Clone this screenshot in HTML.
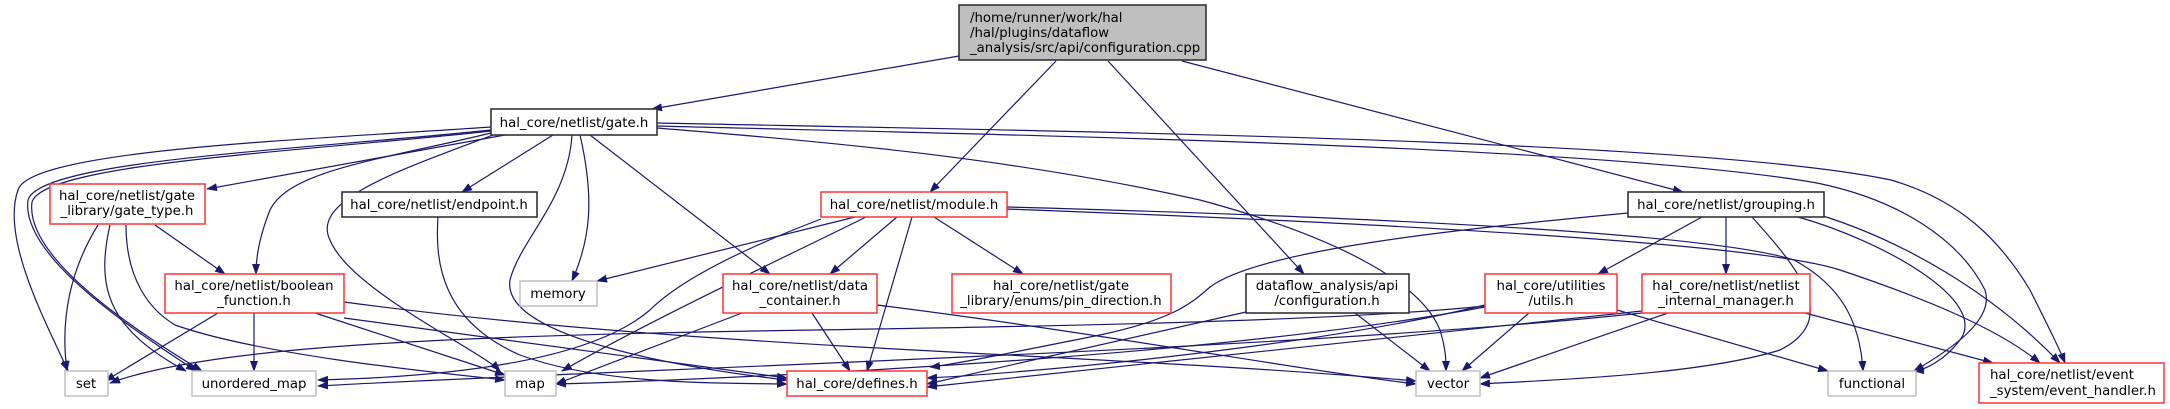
<!DOCTYPE html>
<html><head><meta charset="utf-8"><style>
html,body{margin:0;padding:0;background:#fff;}
svg{display:block}
text{font-family:"DejaVu Sans","Liberation Sans",sans-serif;font-size:13.3px;fill:#000}
.e{fill:none;stroke:#191970;stroke-width:1.2}
.r{fill:#fff;stroke:#ff3333;stroke-width:1.5}
.g{fill:#fff;stroke:#bfbfbf;stroke-width:1.5}
.b{fill:#fff;stroke:#333;stroke-width:1.6}
</style></head><body>
<svg width="2170" height="409" viewBox="0 0 2170 409" xmlns="http://www.w3.org/2000/svg">
<defs><marker id="a" markerWidth="11" markerHeight="8" refX="10" refY="4" orient="auto" markerUnits="userSpaceOnUse"><path d="M0,0 L11,4 L0,8 z" fill="#191970"/></marker></defs>
<g class="e" marker-end="url(#a)">
<!-- root -->
<path d="M959,56 L652,109"/>
<path d="M1056,61 L930,192"/>
<path d="M1108,61 L1304,274"/>
<path d="M1182,61 L1683,192"/>
<!-- gate.h -->
<path d="M491,127 C300,140 30,150 18,190 C0,240 50,330 68,371"/>
<path d="M491,130 C300,150 40,160 28,200 C20,260 150,340 196,371"/>
<path d="M491,131 C300,152 44,163 32,202 C24,262 154,342 202,371"/>
<path d="M505,135 L207,189"/>
<path d="M491,133 C380,160 290,170 270,210 C258,240 256,260 256,274"/>
<path d="M493,135 C400,170 310,200 330,240 C350,290 480,350 500,371"/>
<path d="M553,135 L462,192"/>
<path d="M572,135 C568,200 520,240 510,280 C500,340 700,370 787,380"/>
<path d="M580,135 C595,200 590,240 572,281"/>
<path d="M590,135 L770,274"/>
<path d="M657,128 C800,140 1000,155 1200,200 C1330,235 1420,280 1440,330 C1446,350 1446,360 1446,371"/>
<path d="M657,126 C1000,135 1600,145 1817,183 C1900,200 1960,240 1985,290 C1995,320 1950,350 1914,371"/>
<path d="M657,123 C1100,132 1700,140 1891,180 C1960,200 2000,240 2030,290 C2050,330 2060,350 2065,363"/>
<!-- gate_type -->
<path d="M98,225 C70,270 60,320 67,371"/>
<path d="M110,225 C95,290 110,330 186,371"/>
<path d="M126,225 C126,280 150,310 175,325 C260,355 430,372 505,380"/>
<path d="M155,225 L225,274"/>
<!-- endpoint -->
<path d="M438,217 C435,260 440,320 520,355 C600,385 720,383 787,384"/>
<!-- boolean -->
<path d="M218,313 L105,381"/>
<path d="M254,313 L254,371"/>
<path d="M315,313 L505,375"/>
<path d="M344,318 L787,378"/>
<path d="M344,302 C700,350 1100,353 1416,381"/>
<!-- module -->
<path d="M855,217 L597,281"/>
<path d="M821,219 C740,250 680,280 650,310 C580,370 400,378 318,380"/>
<path d="M866,217 C800,250 650,320 562,371"/>
<path d="M897,217 L830,274"/>
<path d="M912,217 L867,371"/>
<path d="M934,217 L1023,274"/>
<path d="M1007,207 C1300,215 1700,230 1794,260 C1840,285 1860,320 1863,371"/>
<path d="M1007,209 C1300,220 1750,240 1840,270 C1930,300 2000,330 2040,363"/>
<!-- data_container -->
<path d="M742,313 L556,384"/>
<path d="M812,313 L850,371"/>
<path d="M877,305 C1100,333 1300,370 1416,384"/>
<!-- grouping -->
<path d="M1628,213 C1450,230 1260,250 1210,287 C1190,305 1170,320 1100,335 C1000,355 950,365 930,367"/>
<path d="M1702,217 L1598,274"/>
<path d="M1726,217 L1726,274"/>
<path d="M1752,217 C1800,270 1840,320 1780,350 C1700,375 1550,380 1480,384"/>
<path d="M1798,217 C1880,240 1990,300 1960,340 C1945,360 1925,370 1914,371"/>
<path d="M1820,215 C1900,240 1990,290 2060,363"/>
<!-- dataflow config -->
<path d="M1246,312 L927,384"/>
<path d="M1355,313 L1430,371"/>
<!-- utils -->
<path d="M1485,306 C1300,325 900,328 700,332 C400,338 200,350 110,383"/>
<path d="M1485,305 C1300,350 1000,375 927,378"/>
<path d="M1485,307 C1200,360 700,380 556,384"/>
<path d="M1529,313 L1462,371"/>
<path d="M1617,310 L1828,371"/>
<!-- internal mgr -->
<path d="M1668,313 L1480,378"/>
<path d="M1642,311 L927,387"/>
<path d="M1642,313 C1300,350 600,370 318,386"/>
<path d="M1805,313 L1993,363"/>
</g>
<!-- nodes -->
<rect x="959" y="5" width="247" height="55" fill="#bfbfbf" stroke="#333" stroke-width="1.6"/>
<text x="970" y="22">/home/runner/work/hal</text>
<text x="970" y="37">/hal/plugins/dataflow</text>
<text x="970" y="52">_analysis/src/api/configuration.cpp</text>

<rect class="b" x="491" y="109" width="166" height="26"/><text x="574" y="127" text-anchor="middle">hal_core/netlist/gate.h</text>
<rect class="r" x="50" y="184" width="155" height="40"/><text x="127" y="200" text-anchor="middle">hal_core/netlist/gate</text><text x="127" y="215" text-anchor="middle">_library/gate_type.h</text>
<rect class="b" x="342" y="192" width="195" height="25"/><text x="439" y="209" text-anchor="middle">hal_core/netlist/endpoint.h</text>
<rect class="r" x="821" y="192" width="186" height="25"/><text x="914" y="209" text-anchor="middle">hal_core/netlist/module.h</text>
<rect class="b" x="1628" y="192" width="196" height="25"/><text x="1726" y="209" text-anchor="middle">hal_core/netlist/grouping.h</text>

<rect class="r" x="165" y="274" width="179" height="39"/><text x="254" y="290" text-anchor="middle">hal_core/netlist/boolean</text><text x="254" y="305" text-anchor="middle">_function.h</text>
<rect class="g" x="520" y="281" width="77" height="25"/><text x="558" y="298" text-anchor="middle">memory</text>
<rect class="r" x="723" y="274" width="154" height="39"/><text x="800" y="290" text-anchor="middle">hal_core/netlist/data</text><text x="800" y="305" text-anchor="middle">_container.h</text>
<rect class="r" x="952" y="274" width="219" height="39"/><text x="1061" y="290" text-anchor="middle">hal_core/netlist/gate</text><text x="1061" y="305" text-anchor="middle">_library/enums/pin_direction.h</text>
<rect class="b" x="1246" y="274" width="163" height="39"/><text x="1327" y="290" text-anchor="middle">dataflow_analysis/api</text><text x="1327" y="305" text-anchor="middle">/configuration.h</text>
<rect class="r" x="1485" y="274" width="132" height="39"/><text x="1551" y="290" text-anchor="middle">hal_core/utilities</text><text x="1551" y="305" text-anchor="middle">/utils.h</text>
<rect class="r" x="1642" y="274" width="168" height="39"/><text x="1726" y="290" text-anchor="middle">hal_core/netlist/netlist</text><text x="1726" y="305" text-anchor="middle">_internal_manager.h</text>

<rect class="g" x="65" y="371" width="43" height="25"/><text x="86" y="388" text-anchor="middle">set</text>
<rect class="g" x="192" y="371" width="124" height="25"/><text x="254" y="388" text-anchor="middle">unordered_map</text>
<rect class="g" x="505" y="371" width="51" height="25"/><text x="530" y="388" text-anchor="middle">map</text>
<rect class="r" x="787" y="371" width="140" height="25"/><text x="857" y="388" text-anchor="middle">hal_core/defines.h</text>
<rect class="g" x="1416" y="371" width="64" height="25"/><text x="1448" y="388" text-anchor="middle">vector</text>
<rect class="g" x="1828" y="371" width="88" height="25"/><text x="1872" y="388" text-anchor="middle">functional</text>
<rect class="r" x="1979" y="363" width="185" height="40"/><text x="1990" y="379">hal_core/netlist/event</text><text x="1990" y="395">_system/event_handler.h</text>
</svg>
</body></html>
